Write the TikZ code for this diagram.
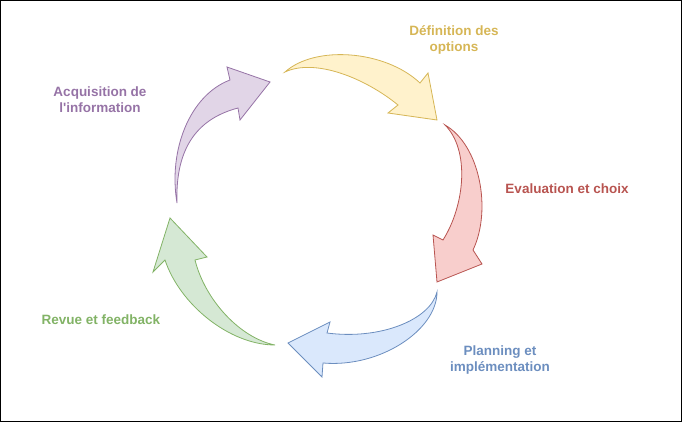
\documentclass[tikz,border=0pt]{standalone}
\usepackage{fontspec}
\setmainfont{Liberation Sans}[Ligatures=TeXOff]
\definecolor{yelfill}{HTML}{FFF2CC}\definecolor{yelline}{HTML}{D6B656}
\definecolor{redfill}{HTML}{F8CECC}\definecolor{redline}{HTML}{B85450}
\definecolor{blufill}{HTML}{DAE8FC}\definecolor{bluline}{HTML}{6C8EBF}
\definecolor{grnfill}{HTML}{D5E8D4}\definecolor{grnline}{HTML}{82B366}
\definecolor{purfill}{HTML}{E1D5E7}\definecolor{purline}{HTML}{9673A6}
\tikzset{
arrowshape/.style={line width=0.8pt, line join=miter},
steplabel/.style={align=center, font=\bfseries\fontsize{13.5}{16}\selectfont, inner sep=0pt}
}
\begin{document}
\begin{tikzpicture}[x=1pt,y=-1pt]
\useasboundingbox (0,0) rectangle (682,422);
\draw[line width=0.8pt] (0.5,0.5) rectangle (681.5,421.5);
% purple
\draw[arrowshape, draw=purline, fill=purfill] (177,203) .. controls (168,150) and (190,95) .. (230,80)
-- (227,67) -- (270,82) -- (240,120) -- (238,108)
.. controls (200,118) and (175,145) .. (177,203) -- cycle;
% yellow
\draw[arrowshape, draw=yelline, fill=yelfill] (285,72) .. controls (315,45) and (385,50) .. (420,83)
-- (428,73) -- (437,120) -- (388,113) -- (398,105)
.. controls (365,78) and (315,58) .. (285,72) -- cycle;
% red
\draw[arrowshape, draw=redline, fill=redfill] (445,125) .. controls (480,145) and (492,210) .. (473,250)
-- (482,264) -- (437,282) -- (433,235) -- (443,240)
.. controls (465,205) and (470,150) .. (445,125) -- cycle;
% blue
\draw[arrowshape, draw=bluline, fill=blufill] (437,292) .. controls (437,330) and (380,368) .. (323,363)
-- (322,377) -- (288,343) -- (330,322) -- (327,333)
.. controls (380,340) and (430,320) .. (437,292) -- cycle;
% green
\draw[arrowshape, draw=grnline, fill=grnfill] (275,345) .. controls (230,345) and (180,305) .. (165,260)
-- (153,272) -- (170,218) -- (207,257) -- (195,260)
.. controls (205,300) and (240,338) .. (275,345) -- cycle;
% labels
\node[steplabel, text=purline] (acquisition) at (100,100) {Acquisition de\\l'information};
\node[steplabel, text=yelline] (definition) at (454,40) {Définition des\\options};
\node[steplabel, text=redline] (evaluation) at (567,189) {Evaluation et choix};
\node[steplabel, text=bluline] (planning) at (500,360) {Planning et\\implémentation};
\node[steplabel, text=grnline] (revue) at (101,320) {Revue et feedback};
\end{tikzpicture}
\end{document}
